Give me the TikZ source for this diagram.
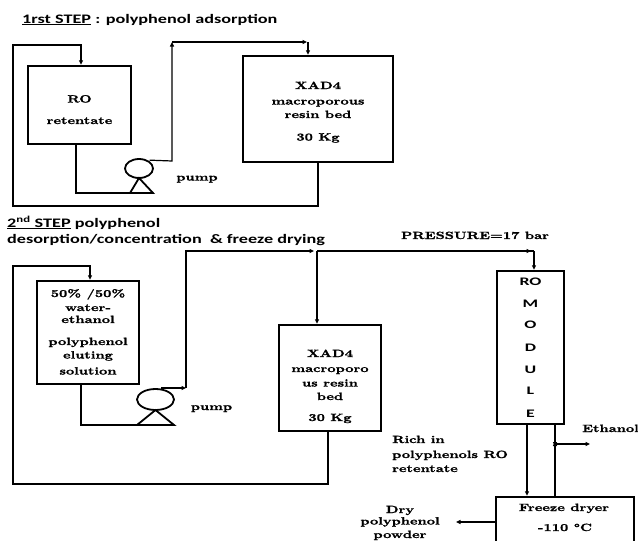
\documentclass[tikz,border=0pt]{standalone}
\usepackage{fontspec}
\newfontfamily\sbf{lmroman10-bold}[Extension=.otf,FakeStretch=1.37,FakeBold=1.3]
\newfontfamily\cbf{Carlito}[FakeStretch=1.4]
\newfontfamily\cbr{Carlito}[FakeStretch=1.55]
\usetikzlibrary{arrows.meta,shapes.geometric}
\tikzset{
  box/.style={draw, line width=2.4pt, inner sep=0pt},
  flow/.style={line width=1.2pt},
  arr/.style={flow, -{Triangle[length=4.5pt,width=4pt]}},
  pumpc/.style={draw, ellipse, line width=1.8pt, inner sep=0pt},
  pumpt/.style={line width=1.8pt, line join=miter},
  lbl/.style={font=\sbf\fontsize{10.5}{12.6}\selectfont, inner sep=0pt, anchor=base},
  lblw/.style={lbl, anchor=base west},
  ttl/.style={font=\cbf\bfseries\fontsize{13}{15}\selectfont, inner sep=0pt, anchor=base west},
  rol/.style={font=\cbr\bfseries\fontsize{11.5}{13}\selectfont, inner sep=0pt, anchor=base},
}
\begin{document}
\begin{tikzpicture}[x=1pt,y=-1pt]
\clip (0,0) rectangle (638,541);
\fill[white] (0,0) rectangle (638,541);

% ---------- STEP 1 ----------
\node[ttl] (t1) at (22,23) {\underline{1rst STEP} : polyphenol adsorption};

\node[box, minimum width=103pt, minimum height=78pt] (ro1) at (79.5,105) {};
\node[lbl] (ro1a) at (79.5,102.5) {RO};
\node[lbl] (ro1b) at (79.5,124) {retentate};

\node[box, minimum width=150pt, minimum height=106pt] (xad1) at (318,109) {};
\node[lbl] (x1a) at (318,89) {XAD4};
\node[lbl] (x1b) at (318,104.5) {macroporous};
\node[lbl] (x1c) at (318,118) {resin bed};
\node[lbl] (x1d) at (318,140.5) {30 Kg};

\node[pumpc, minimum width=28pt, minimum height=19pt] (pump1) at (139,168.5) {};
\coordinate (p1apex) at (139,178);
\coordinate (p1l) at (130,193);
\coordinate (p1r) at (153,193);
\draw[pumpt] (p1apex) -- (p1l) -- (p1r) -- cycle;
\node[lbl] (pl1) at (197,180.5) {pump};

% connectors step 1
\coordinate (a1) at (318,206);
\coordinate (a2) at (13,206);
\coordinate (a3) at (13,45);
\coordinate (a4) at (81,45);
\draw[arr] (xad1.south) -- (a1) -- (a2) -- (a3) -- (a4) -- (a4 |- ro1.north);
\coordinate (b1) at (76,193);
\draw[flow] ([xshift=-3.5pt]ro1.south) -- (b1) -- (p1l);
\coordinate (c1) at (172,161);
\coordinate (c2) at (172,42);
\coordinate (c3) at (308,42);
\draw[arr] ([yshift=1pt]pump1.north east) -- (c1) -- (c2);
\draw[arr] (c2) -- ([xshift=-1pt]c3);
\draw[arr] (c3) -- (c3 |- xad1.north);

% ---------- STEP 2 ----------
\node[ttl] (t2) at (7,227) {\underline{2\textsuperscript{nd} STEP} polyphenol};
\node[ttl] (t3) at (7,243) {desorption/concentration\ \ \& freeze drying};
\node[lbl] (press) at (475,239) {PRESSURE=17 bar};

\node[box, minimum width=102pt, minimum height=103pt] (sol) at (88,332.5) {};
\node[lbl] (s1) at (88,297) {50\% /50\%};
\node[lbl] (s2) at (88,311) {water-};
\node[lbl] (s3) at (88,323) {ethanol};
\node[lbl] (s4) at (88,345) {polyphenol};
\node[lbl] (s5) at (88,358.5) {eluting};
\node[lbl] (s6) at (88,374.5) {solution};

\node[box, minimum width=102pt, minimum height=106pt] (xad2) at (330,378) {};
\node[lbl] (x2a) at (330,357) {XAD4};
\node[lbl] (x2b) at (330,372) {macroporo};
\node[lbl] (x2c) at (330,386.5) {us resin};
\node[lbl] (x2d) at (330,400) {bed};
\node[lbl] (x2e) at (330,421) {30 Kg};

\node[box, minimum width=67pt, minimum height=153pt] (rom) at (530.5,347.5) {};
\node[rol] (r1) at (530.5,285) {RO};
\node[rol] (r2) at (530.5,307) {M};
\node[rol] (r3) at (530.5,328) {O};
\node[rol] (r4) at (530.5,351) {D};
\node[rol] (r5) at (530.5,373) {U};
\node[rol] (r6) at (530.5,394) {L};
\node[rol] (r7) at (530.5,417) {E};

\node[box, minimum width=138pt, minimum height=50pt] (fd) at (565,522) {};
\node[lbl] (f1) at (564,511) {Freeze dryer};
\node[lbl] (f2) at (565,531) {-110 °C};

\node[lbl] (d1) at (400,513) {Dry};
\node[lbl] (d2) at (400,524.5) {polyphenol};
\node[lbl] (d3) at (400,538) {powder};

\node[lblw] (rr1) at (392,443) {Rich in};
\node[lblw] (rr2) at (392,458) {polyphenols RO};
\node[lblw] (rr3) at (392,472) {retentate};

\node[lblw] (eth) at (582,432) {Ethanol};

\node[pumpc, minimum width=37pt, minimum height=21pt] (pump2) at (155.5,399.5) {};
\coordinate (p2apex) at (155.5,410);
\coordinate (p2l) at (137,425);
\coordinate (p2r) at (174,425);
\draw[pumpt] (p2apex) -- (p2l) -- (p2r) -- cycle;
\node[lbl] (pl2) at (211.5,410) {pump};

% connectors step 2
\coordinate (e1) at (328,484);
\coordinate (e2) at (13,484);
\coordinate (e3) at (13,266);
\coordinate (e4) at (90,266);
\draw[arr] ([xshift=-2pt]xad2.south) -- (e1) -- (e2) -- (e3) -- (e4) -- (e4 |- sol.north);
\coordinate (g1) at (81,425);
\draw[flow] ([xshift=-7pt]sol.south) -- (g1) -- (p2l);
\coordinate (h0) at (161,388);
\coordinate (h1) at (186,388);
\coordinate (h2) at (186,251);
\coordinate (h3) at (317,251);
\coordinate (h4) at (534,251);
\draw[arr] (h0) -- (h1);
\draw[arr] (h1) -- (h2) -- ([xshift=-3pt]h3);
\draw[flow] (h3) -- (h4);
\draw[arr] (h3) -- ([xshift=-3pt]h4);
\draw[arr] (h3) -- (h3 |- xad2.north);
\draw[arr] (h4) -- (h4 |- rom.north);

\coordinate (k1) at (527,424);
\draw[arr] ([xshift=-3.5pt]rom.south) -- (k1 |- fd.north);
\coordinate (m0) at (555,424);
\coordinate (m1) at (555,444);
\coordinate (m2) at (590,444);
\draw[arr] (m0 |- rom.south) -- ([yshift=-2.5pt]m1);
\draw[arr] (m0 |- fd.north) -- ([yshift=2.5pt]m1);
\draw[arr] (m1) -- (m2);
\coordinate (n1) at (456,522);
\draw[arr] (fd.west) -- (n1);
\end{tikzpicture}
\end{document}
